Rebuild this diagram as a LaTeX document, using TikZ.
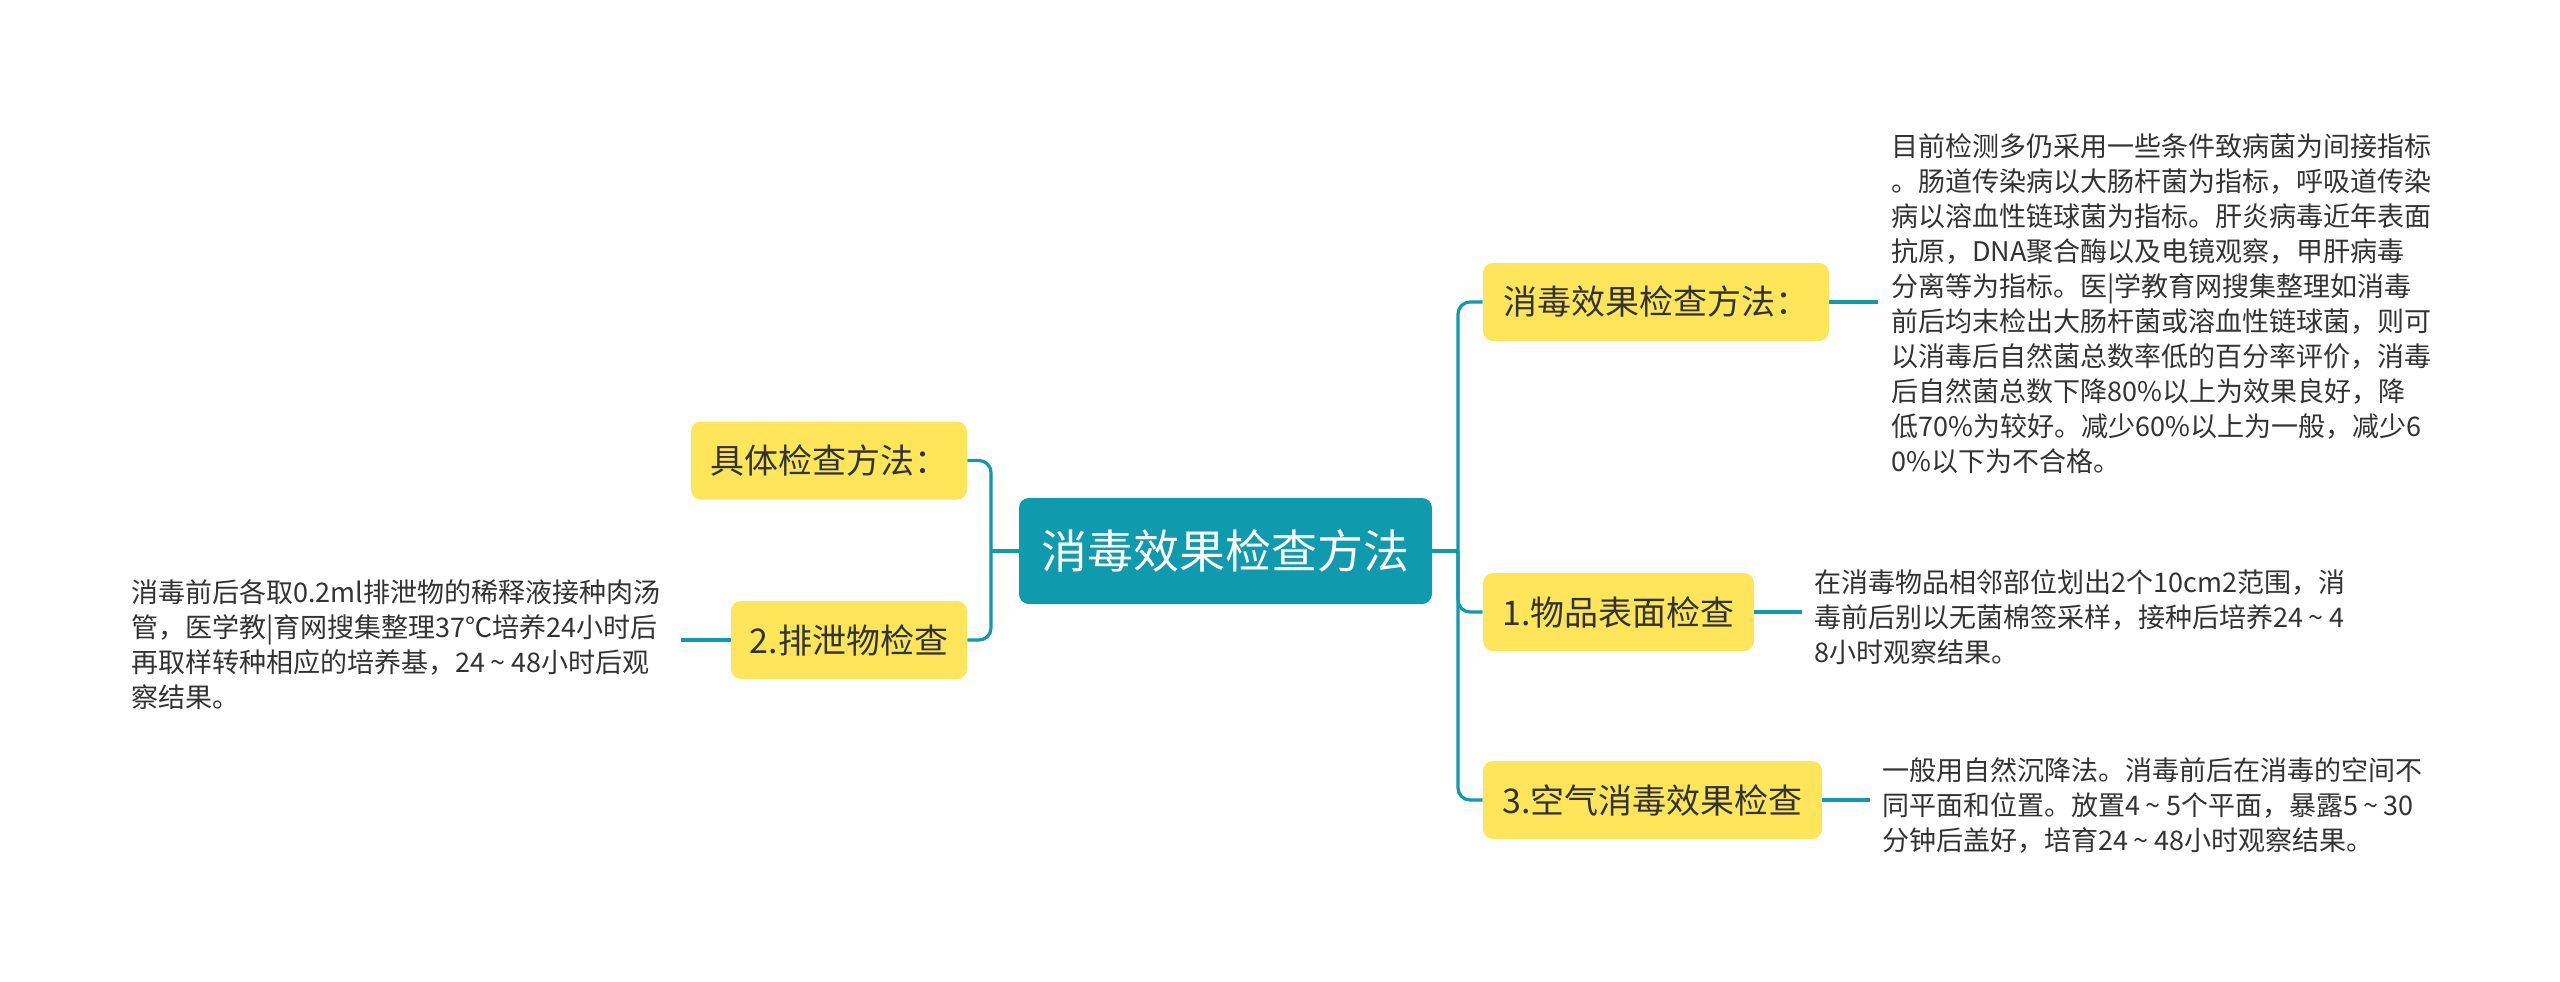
\documentclass[tikz,border=0pt]{standalone}
\usepackage{fontspec}
\setmainfont{Noto Sans CJK SC}
\definecolor{teal0}{HTML}{0F9AAD}
\definecolor{yel}{HTML}{FEE55A}
\definecolor{txt}{HTML}{333333}
\newcommand{\tld}{\hspace{0.2em}\char"007E\hspace{0.2em}}
\begin{document}
\begin{tikzpicture}[x=0.5pt,y=-0.5pt,
 rootbox/.style={fill=teal0, rounded corners=5pt, text=white, font=\fontsize{23}{28}\selectfont, minimum height=53pt, inner sep=0pt},
 branch/.style={fill=yel, rounded corners=5pt, text=txt, font=\fontsize{17}{20}\selectfont, minimum height=39pt, inner sep=0pt},
 leaf/.style={text=txt, font=\fontsize{13.5}{17.5}\selectfont, align=left, inner ysep=0pt},
 conn/.style={draw=teal0, line width=1.6pt},
 elbow/.style={conn, rounded corners=6pt}]
\useasboundingbox (0,0) rectangle (2560,981);
\fill[white] (0,0) rectangle (2560,981);
\node[rootbox, minimum width=206.5pt] (root) at (1225.5,551) {消毒效果检查方法};
\node[branch, minimum width=138pt] (A) at (829,460.5) {具体检查方法：};
\node[branch, minimum width=118pt] (B) at (849,640) {2.排泄物检查};
\node[branch, minimum width=173pt] (C) at (1656,302) {消毒效果检查方法：};
\node[branch, minimum width=135.5pt] (D) at (1618.5,612) {1.物品表面检查};
\node[branch, minimum width=169.5pt] (E) at (1652.5,800) {3.空气消毒效果检查};
\node[leaf, anchor=west, inner xsep=6.5pt] (lc) at (1878,303.5) {目前检测多仍采用一些条件致病菌为间接指标\\。肠道传染病以大肠杆菌为指标，呼吸道传染\\病以溶血性链球菌为指标。肝炎病毒近年表面\\抗原，DNA聚合酶以及电镜观察，甲肝病毒\\分离等为指标。医|学教育网搜集整理如消毒\\前后均末检出大肠杆菌或溶血性链球菌，则可\\以消毒后自然菌总数率低的百分率评价，消毒\\后自然菌总数下降80\%以上为效果良好，降\\低70\%为较好。减少60\%以上为一般，减少6\\0\%以下为不合格。};
\node[leaf, anchor=west, inner xsep=6pt] (ld) at (1802,617) {在消毒物品相邻部位划出2个10cm2范围，消\\毒前后别以无菌棉签采样，接种后培养24\tld 4\\8小时观察结果。};
\node[leaf, anchor=west, inner xsep=6pt] (le) at (1870,805) {一般用自然沉降法。消毒前后在消毒的空间不\\同平面和位置。放置4\tld 5个平面，暴露5\tld 30\\分钟后盖好，培育24\tld 48小时观察结果。};
\node[leaf, anchor=west, inner xsep=10pt] (lb) at (111,645) {消毒前后各取0.2ml排泄物的稀释液接种肉汤\\管，医学教|育网搜集整理37℃培养24小时后\\再取样转种相应的培养基，24\tld 48小时后观\\察结果。};
\coordinate (jl) at (991,551);
\coordinate (jr) at (1458,551);
\draw[conn] (root.west) -- (jl);
\draw[elbow] (jl) |- (A.east);
\draw[elbow] (jl) |- (B.east);
\draw[conn] (root.east) -- (jr);
\draw[elbow] (jr) |- (C.west);
\draw[elbow] (jr) |- (D.west);
\draw[elbow] (jr) |- (E.west);
\draw[conn] (C.east) -- (C.east -| lc.west);
\draw[conn] (D.east) -- (D.east -| ld.west);
\draw[conn] (E.east) -- (E.east -| le.west);
\draw[conn] (B.west) -- (B.west -| lb.east);
\end{tikzpicture}
\end{document}
